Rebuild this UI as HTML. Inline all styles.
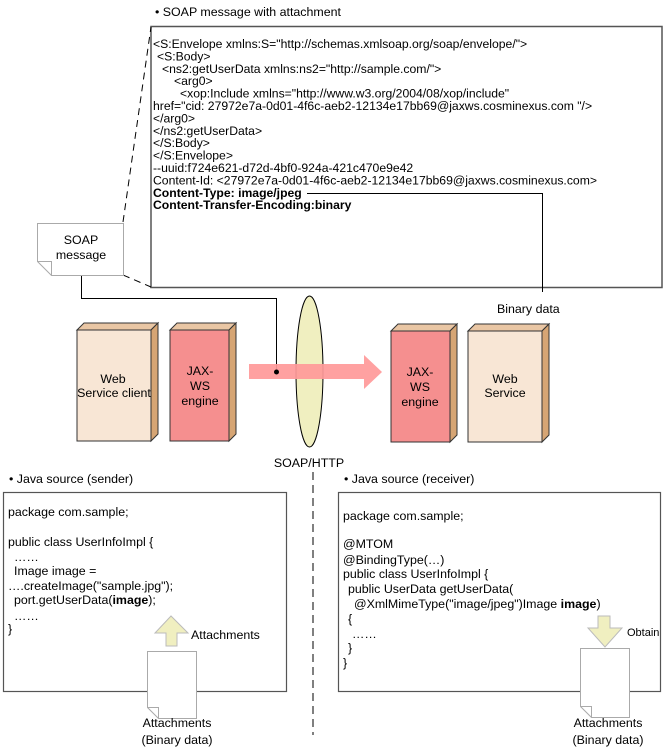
<!DOCTYPE html>
<html><head><meta charset="utf-8"><style>
html,body{margin:0;padding:0;background:#fff;}
svg{display:block;font-family:"Liberation Sans",sans-serif;}
</style></head><body>
<svg width="665" height="755" viewBox="0 0 665 755" xmlns="http://www.w3.org/2000/svg">
<text x="155" y="16" font-size="12.4">• SOAP message with attachment</text>
<rect x="151" y="26.5" width="511" height="261" fill="#fff" stroke="#555" stroke-width="1.5"/>
<g font-size="12.2" fill="#000">
<text x="153" y="48">&lt;S:Envelope xmlns:S="http://schemas.xmlsoap.org/soap/envelope/"&gt;</text>
<text x="157" y="60.4">&lt;S:Body&gt;</text>
<text x="162" y="72.8">&lt;ns2:getUserData xmlns:ns2="http://sample.com/"&gt;</text>
<text x="174" y="85.2">&lt;arg0&gt;</text>
<text x="180" y="97.6">&lt;xop:Include xmlns="http://www.w3.org/2004/08/xop/include"</text>
<text x="153" y="110">href="cid: 27972e7a-0d01-4f6c-aeb2-12134e17bb69@jaxws.cosminexus.com "/&gt;</text>
<text x="153" y="122.4">&lt;/arg0&gt;</text>
<text x="153" y="134.8">&lt;/ns2:getUserData&gt;</text>
<text x="153" y="147.2">&lt;/S:Body&gt;</text>
<text x="153" y="159.6">&lt;/S:Envelope&gt;</text>
<text x="153" y="172">--uuid:f724e621-d72d-4bf0-924a-421c470e9e42</text>
<text x="153" y="184.4">Content-Id: &lt;27972e7a-0d01-4f6c-aeb2-12134e17bb69@jaxws.cosminexus.com&gt;</text>
<text x="153" y="196.8" font-weight="bold">Content-Type: image/jpeg</text>
<text x="153" y="209.2" font-weight="bold">Content-Transfer-Encoding:binary</text>
</g>
<polyline points="307,193.5 542.5,193.5 542.5,292" fill="none" stroke="#000" stroke-width="1"/>
<text x="497" y="313" font-size="12.4">Binary data</text>
<line x1="123" y1="222" x2="151" y2="27" stroke="#000" stroke-dasharray="7,5"/>
<line x1="123" y1="275" x2="151" y2="287" stroke="#000" stroke-dasharray="7,5"/>
<path d="M37.5,223.5 H123.5 V275.5 H51.5 L37.5,261.5 Z" fill="#fff" stroke="#aaa"/>
<path d="M37.5,261.5 H51.5 V275.5" fill="none" stroke="#aaa"/>
<text x="81" y="244" font-size="12.4" text-anchor="middle">SOAP</text>
<text x="81" y="259" font-size="12.4" text-anchor="middle">message</text>
<polyline points="81.5,276 81.5,298.5 276.5,298.5 276.5,372" fill="none" stroke="#000"/>
<ellipse cx="309.5" cy="371.5" rx="13.5" ry="75.5" fill="#f0efc0" stroke="#000"/>
<path d="M249,364 H364 V355 L382,372 L364,389 V379 H249 Z" fill="#f99" opacity="0.92"/>
<circle cx="276.5" cy="372" r="2.5" fill="#000"/>
<g stroke="#333" stroke-width="1">
<path d="M77,330 L84,323 H158 L151,330 Z" fill="#e9c6a4"/>
<path d="M151,330 L158,323 V434 L151,441 Z" fill="#d6a574"/>
<rect x="77" y="330" width="74" height="111" fill="#f8e6d5"/>
<path d="M170,330 L177,323 H236 L229,330 Z" fill="#e9c6a4"/>
<path d="M229,330 L236,323 V434 L229,441 Z" fill="#d6a574"/>
<rect x="170" y="330" width="59" height="111" fill="#f58f8f"/>
<path d="M391,331 L398,324 H457 L450,331 Z" fill="#e9c6a4"/>
<path d="M450,331 L457,324 V435 L450,442 Z" fill="#d6a574"/>
<rect x="391" y="331" width="59" height="111" fill="#f58f8f"/>
<path d="M468,331 L475,324 H549 L542,331 Z" fill="#e9c6a4"/>
<path d="M542,331 L549,324 V435 L542,442 Z" fill="#d6a574"/>
<rect x="468" y="331" width="74" height="111" fill="#f8e6d5"/>
</g>
<g font-size="12.4" text-anchor="middle">
<text x="113" y="383">Web</text><text x="114" y="397">Service client</text>
<text x="200" y="375">JAX-</text><text x="200" y="390">WS</text><text x="200" y="405">engine</text>
<text x="420" y="376">JAX-</text><text x="420" y="391">WS</text><text x="420" y="406">engine</text>
<text x="505" y="383">Web</text><text x="505" y="397">Service</text>
<text x="309" y="467">SOAP/HTTP</text>
</g>
<line x1="313" y1="472" x2="313" y2="735" stroke="#000" stroke-dasharray="8,5"/>
<!-- sender -->
<text x="9" y="483" font-size="12.4">• Java source (sender)</text>
<rect x="3.5" y="492.5" width="283" height="199" fill="#fff" stroke="#555" stroke-width="1.2"/>
<g font-size="12.4">
<text x="8" y="516">package com.sample;</text>
<text x="8" y="546">public class UserInfoImpl {</text>
<text x="14" y="561">……</text>
<text x="14" y="575">Image image =</text>
<text x="8" y="590">….createImage("sample.jpg");</text>
<text x="14" y="604">port.getUserData(<tspan font-weight="bold">image</tspan>);</text>
<text x="14" y="620">……</text>
<text x="8" y="633">}</text>
<text x="191" y="639">Attachments</text>
</g>
<path d="M166,646 V633 H155 L171,616 L188,633 H177 V646 Z" fill="#f0efc0" stroke="#bbb"/>
<path d="M147.5,651.5 H196.5 V718.5 H158.5 L147.5,707.5 Z" fill="#fff" stroke="#aaa"/>
<path d="M147.5,707.5 H158.5 V718.5" fill="none" stroke="#aaa"/>
<g font-size="12.4" text-anchor="middle">
<text x="177" y="727">Attachments</text>
<text x="177" y="744">(Binary data)</text>
</g>
<!-- receiver -->
<text x="344" y="483" font-size="12.4">• Java source (receiver)</text>
<rect x="338.5" y="492.5" width="322" height="199" fill="#fff" stroke="#555" stroke-width="1.2"/>
<g font-size="12.4">
<text x="343" y="520">package com.sample;</text>
<text x="343" y="548">@MTOM</text>
<text x="343" y="564">@BindingType(…)</text>
<text x="343" y="578">public class UserInfoImpl {</text>
<text x="348" y="593">public UserData getUserData(</text>
<text x="354" y="608">@XmlMimeType("image/jpeg")Image <tspan font-weight="bold">image</tspan>)</text>
<text x="348" y="623">{</text>
<text x="352" y="638">……</text>
<text x="348" y="652">}</text>
<text x="343" y="667">}</text>
<text x="627" y="636" font-size="11">Obtain</text>
</g>
<path d="M598,616 V628 H588 L605,647 L622,628 H610 V616 Z" fill="#f0efc0" stroke="#bbb"/>
<path d="M580.5,648.5 H629.5 V717.5 H591.5 L580.5,706.5 Z" fill="#fff" stroke="#aaa"/>
<path d="M580.5,706.5 H591.5 V717.5" fill="none" stroke="#aaa"/>
<g font-size="12.4" text-anchor="middle">
<text x="608" y="727">Attachments</text>
<text x="608" y="744">(Binary data)</text>
</g>
</svg>
</body></html>
